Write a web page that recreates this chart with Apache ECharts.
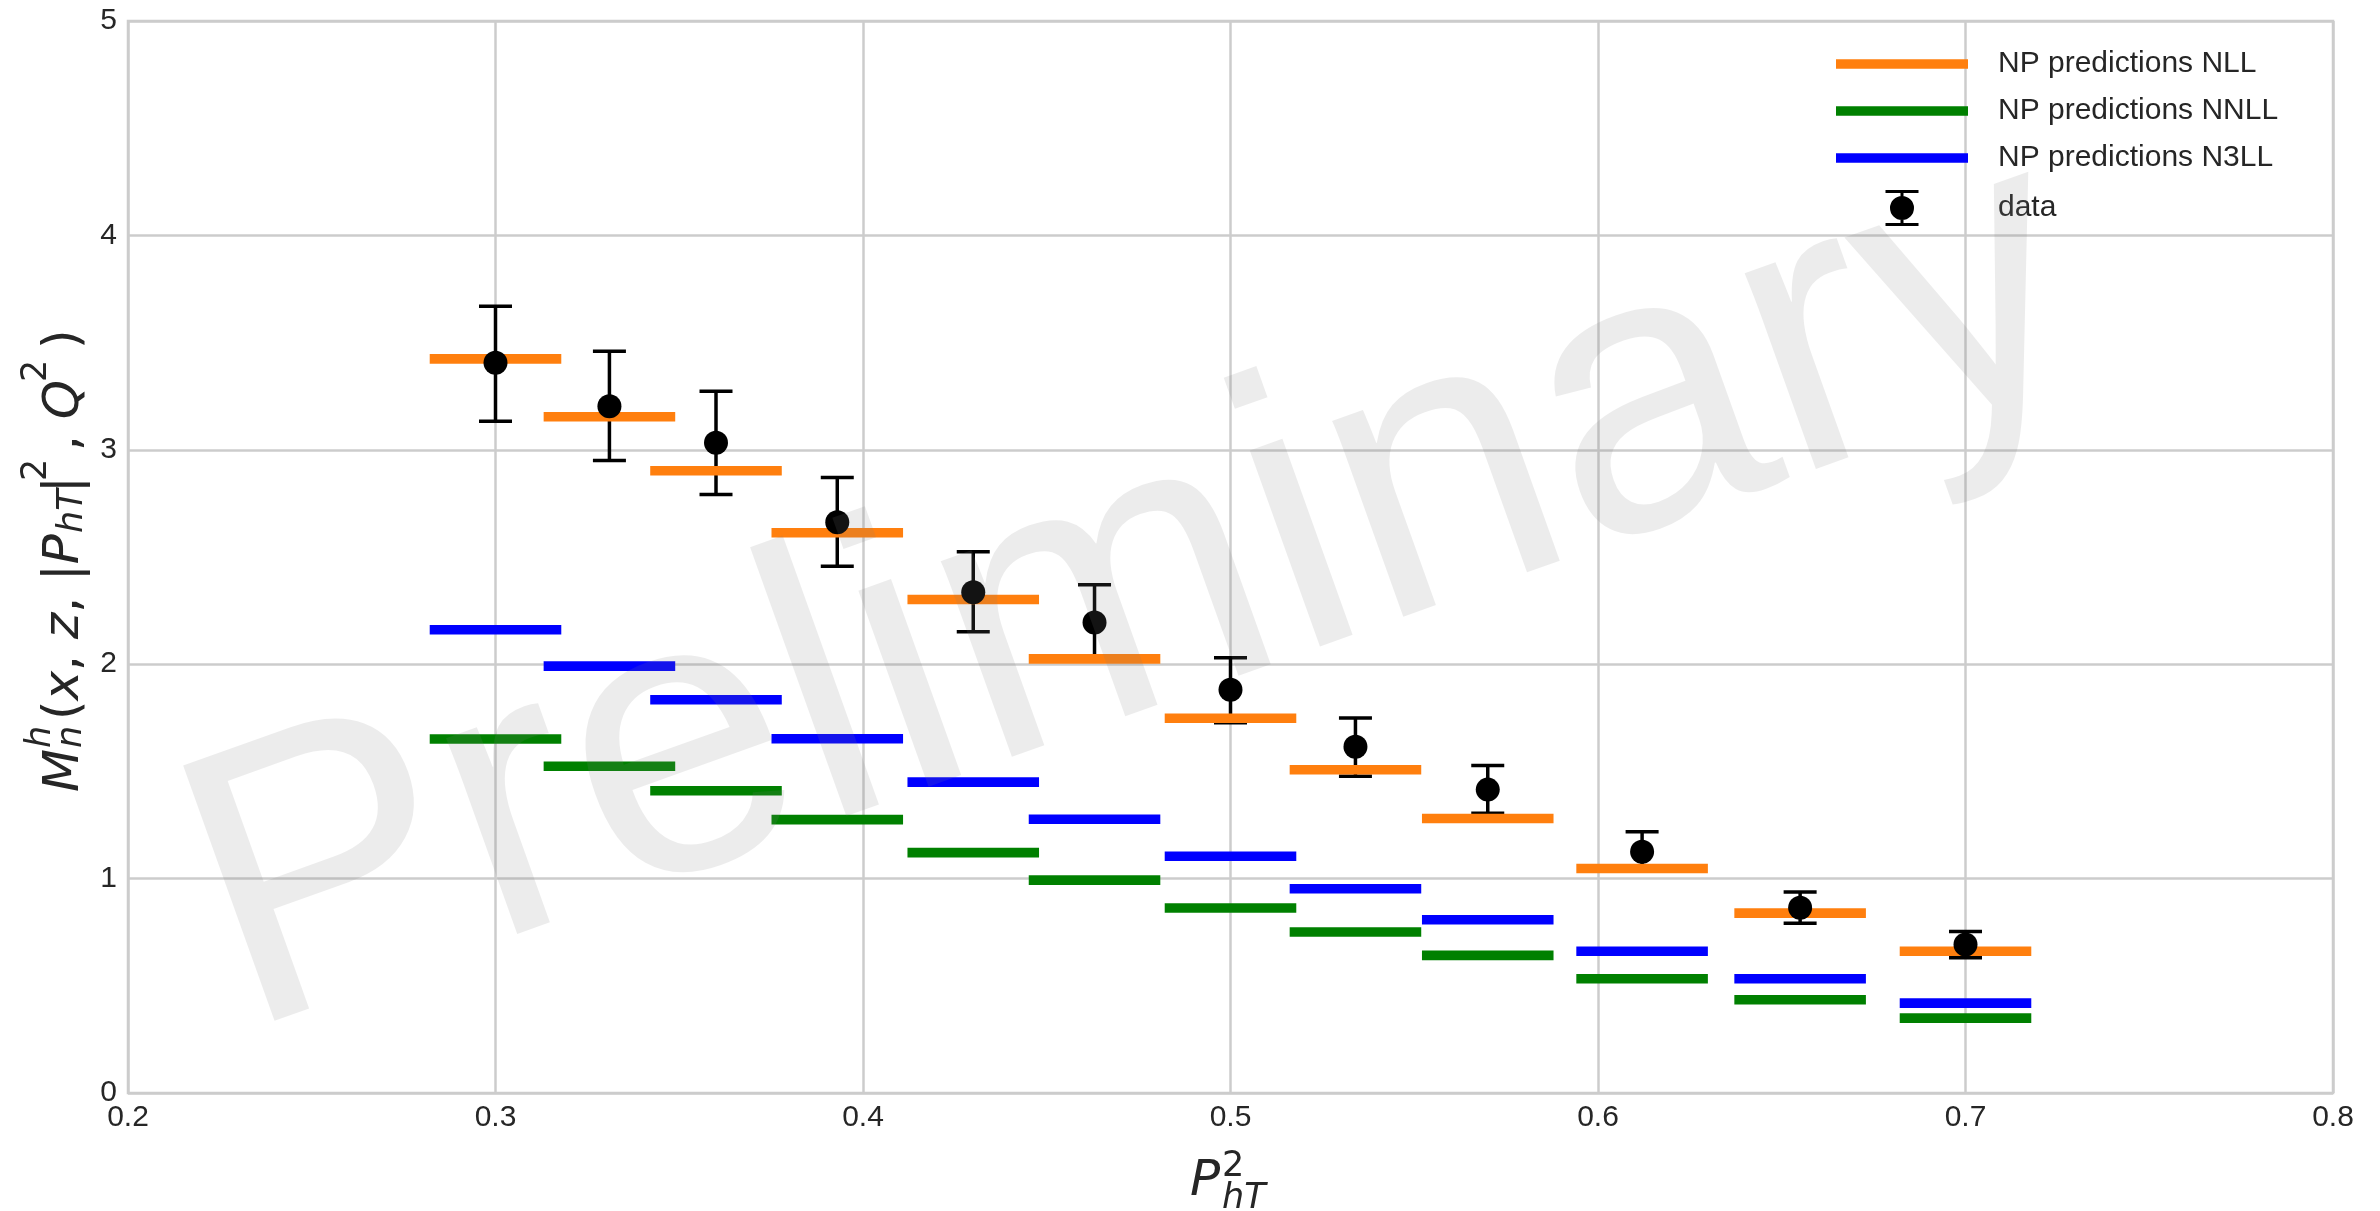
<!DOCTYPE html>
<html>
<head>
<meta charset="utf-8">
<script src="https://cdn.jsdelivr.net/npm/echarts@6/dist/echarts.min.js"></script>
<style>
  html, body { margin: 0; padding: 0; background: #fff; }
  #chart { width: 2380px; height: 1211px; }
</style>
</head>
<body>
<div id="chart"></div>
<script>
// bin centres (P_hT^2) and measured values
const xVals = [0.300, 0.331, 0.360, 0.393, 0.430, 0.463, 0.500, 0.534, 0.570, 0.612, 0.655, 0.700];
const binHalfWidth = 0.0179;
const dataVals = [3.406, 3.203, 3.033, 2.662, 2.336, 2.195, 1.881, 1.615, 1.415, 1.125, 0.864, 0.693];
const errLow  = [3.133, 2.950, 2.791, 2.457, 2.151, 2.035, 1.727, 1.477, 1.305, 1.047, 0.792, 0.631];
const errHigh = [3.670, 3.460, 3.273, 2.871, 2.524, 2.371, 2.030, 1.749, 1.528, 1.218, 0.938, 0.753];
const nllVals  = [3.424, 3.154, 2.902, 2.613, 2.302, 2.025, 1.748, 1.508, 1.280, 1.047, 0.839, 0.661];
const nnllVals = [1.651, 1.524, 1.410, 1.275, 1.121, 0.993, 0.863, 0.751, 0.642, 0.533, 0.435, 0.349];
const n3llVals = [2.161, 1.991, 1.834, 1.652, 1.450, 1.277, 1.104, 0.953, 0.808, 0.661, 0.533, 0.419];
const xTickValues = [0.2, 0.3, 0.4, 0.5, 0.6, 0.7, 0.8];
const yTickValues = [0, 1, 2, 3, 4, 5];

const seriesNames = ["NP predictions NLL", "NP predictions NNLL", "NP predictions N3LL", "data"];

const TEXT = "#262626";
const SANS = '"Liberation Sans", Arial, sans-serif';
const MATH = '"DejaVu Sans", sans-serif';
const MID_TO_BASE = 0.29; // baseline sits this far (in em) below a 'middle' anchor

const chart = echarts.init(document.getElementById("chart"), null, { renderer: "canvas" });

function hbarSeries(name, values, color) {
  return {
    type: "custom",
    name: name,
    coordinateSystem: "cartesian2d",
    itemStyle: { color: color },
    data: xVals.map((x, i) => [x, values[i]]),
    encode: { x: 0, y: 1 },
    z: 3,
    silent: true,
    renderItem: (params, api) => {
      const x = api.value(0);
      const y = api.value(1);
      const p0 = api.coord([x - binHalfWidth, y]);
      const p1 = api.coord([x + binHalfWidth, y]);
      return {
        type: "rect",
        shape: { x: p0[0], y: p0[1] - 4.8, width: p1[0] - p0[0], height: 9.6 },
        style: { fill: color },
      };
    },
  };
}

// a piece of math text placed on a baseline (local coords)
function mt(text, x, baseline, size, italic) {
  return {
    type: "text",
    silent: true,
    style: {
      text: text,
      x: x,
      y: baseline - MID_TO_BASE * size,
      font: (italic ? "italic " : "") + size + "px " + MATH,
      fill: TEXT,
      align: "left",
      verticalAlign: "middle",
    },
  };
}

function mtRich(text, x, baseline, size) {
  const el = mt(text, x, baseline, size, false);
  el.style.rich = { i: { fontStyle: "italic", fontSize: size, fontFamily: MATH, fill: TEXT } };
  el.style.fontSize = size;
  el.style.fontFamily = MATH;
  delete el.style.font;
  return el;
}

const linePath = "path://M0,0H132V9.6H0Z";
const dataPath = "path://M0,0H33V3H18V33H33V36H0V33H15V3H0Z M28.5,18A12,12,0,1,1,4.5,18A12,12,0,1,1,28.5,18Z";

chart.setOption({
  animation: false,
  backgroundColor: "#ffffff",
  grid: {
    left: 128, right: 47, top: 21, bottom: 118,
    show: true, borderColor: "#cccccc", borderWidth: 2.5,
  },
  legend: {
    orient: "vertical",
    left: 1831,
    top: 44,
    itemWidth: 132,
    itemHeight: 36,
    itemGap: 17,
    selectedMode: false,
    textStyle: { fontSize: 30, color: TEXT, fontFamily: SANS, padding: [0, 0, 0, 25] },
    data: [
      { name: seriesNames[0], icon: linePath, itemStyle: { color: "#ff7f0e" } },
      { name: seriesNames[1], icon: linePath, itemStyle: { color: "#008000" } },
      { name: seriesNames[2], icon: linePath, itemStyle: { color: "#0000ff" } },
      { name: seriesNames[3], icon: dataPath, itemStyle: { color: "#000000" } },
    ],
  },
  xAxis: {
    type: "value",
    min: xTickValues[0],
    max: xTickValues[xTickValues.length - 1],
    interval: 0.1,
    axisLine: { show: false },
    axisTick: { show: false },
    splitLine: { show: true, lineStyle: { color: "#cccccc", width: 2.5 } },
    axisLabel: {
      fontSize: 30, color: TEXT, fontFamily: SANS, margin: 10,
      formatter: (v) => v.toFixed(1),
    },
  },
  yAxis: {
    type: "value",
    min: yTickValues[0],
    max: yTickValues[yTickValues.length - 1],
    interval: 1,
    axisLine: { show: false },
    axisTick: { show: false },
    splitLine: { show: true, lineStyle: { color: "#cccccc", width: 2.5 } },
    axisLabel: { fontSize: 30, color: TEXT, fontFamily: SANS, margin: 11 },
  },
  series: [
    hbarSeries(seriesNames[0], nllVals, "#ff7f0e"),
    hbarSeries(seriesNames[1], nnllVals, "#008000"),
    hbarSeries(seriesNames[2], n3llVals, "#0000ff"),
    {
      type: "custom",
      name: seriesNames[3],
      coordinateSystem: "cartesian2d",
      itemStyle: { color: "#000000" },
      data: xVals.map((x, i) => [x, errLow[i], errHigh[i]]),
      encode: { x: 0, y: [1, 2] },
      z: 2,
      silent: true,
      renderItem: (params, api) => {
        const x = api.value(0);
        const lo = api.coord([x, api.value(1)]);
        const hi = api.coord([x, api.value(2)]);
        const style = { stroke: "#000000", lineWidth: 3.5 };
        return {
          type: "group",
          children: [
            { type: "line", shape: { x1: lo[0], y1: lo[1], x2: hi[0], y2: hi[1] }, style: style },
            { type: "line", shape: { x1: lo[0] - 16.5, y1: lo[1], x2: lo[0] + 16.5, y2: lo[1] }, style: style },
            { type: "line", shape: { x1: hi[0] - 16.5, y1: hi[1], x2: hi[0] + 16.5, y2: hi[1] }, style: style },
          ],
        };
      },
    },
    {
      type: "scatter",
      name: seriesNames[3],
      data: xVals.map((x, i) => [x, dataVals[i]]),
      symbol: "circle",
      symbolSize: 24,
      itemStyle: { color: "#000000", opacity: 1 },
      z: 4,
      silent: true,
    },
  ],
  graphic: [
    // watermark
    {
      type: "text",
      x: 246,
      y: 1037,
      rotation: (19.7 * Math.PI) / 180,
      z: 100,
      silent: true,
      style: {
        text: "Preliminary",
        x: 0,
        y: -MID_TO_BASE * 394,
        font: "394px " + SANS,
        fill: "rgba(128,128,128,0.15)",
        align: "left",
        verticalAlign: "middle",
      },
    },
    // x axis label P_hT^2
    {
      type: "group",
      x: 0,
      y: 0,
      children: [
        mt("P", 1190, 1197, 50, true),
        mt("2", 1222, 1177, 35, false),
        mt("hT", 1222, 1209.5, 35, true),
      ],
    },
    // y axis label M_n^h(x, z, |P_hT|^2, Q^2)
    {
      type: "group",
      x: 80,
      y: 790,
      rotation: Math.PI / 2,
      children: [
        mt("M", -2, 0, 50, true),
        mt("h", 42, -29, 35, true),
        mt("n", 42, 2, 35, true),
        mtRich("({i|x}, {i|z}, |{i|P}", 70, 0, 50),
        mt("hT", 257, 3, 35, true),
        mt("|", 297, 0, 50, false),
        mt("2", 309, -33, 35, false),
        mtRich(", {i|Q}", 339, 0, 50),
        mt("2", 408, -33, 35, false),
        mt(")", 441, 0, 50, false),
      ],
    },
  ],
});
</script>
</body>
</html>
